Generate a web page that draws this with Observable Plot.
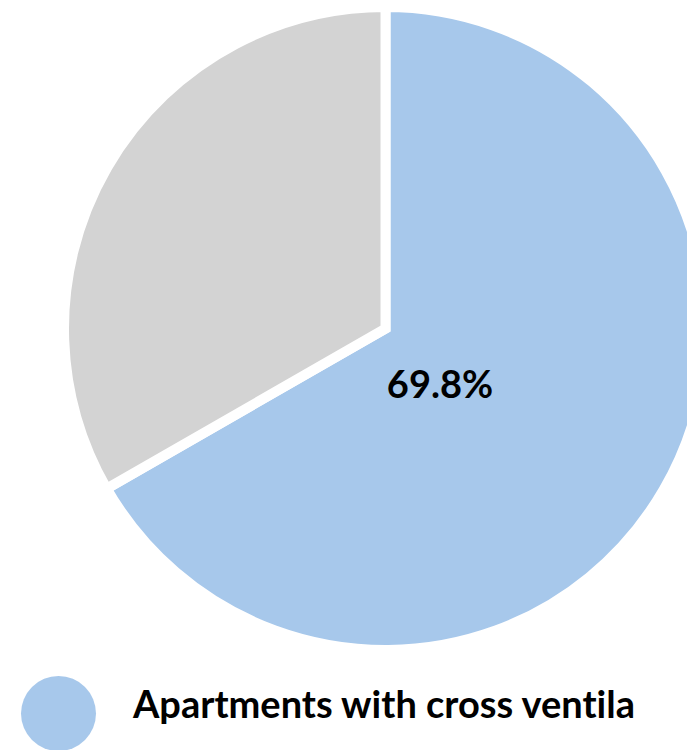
<!DOCTYPE html>
<html><head><meta charset="utf-8">
<script src="https://cdn.jsdelivr.net/npm/d3@7"></script>
<script src="https://cdn.jsdelivr.net/npm/@observablehq/plot@0.6"></script>
<style>
html,body{margin:0;padding:0;background:#fff;}
body{width:687px;height:750px;overflow:hidden;position:relative;}
#chart svg{display:block;}
#legend{position:absolute;left:0;top:660px;width:687px;height:90px;overflow:hidden;}
#legend .sw{position:absolute;left:21px;top:16px;width:75px;height:75px;border-radius:50%;}
#legend .lab{position:absolute;left:133px;top:23px;font-family:Lato,"Open Sans",sans-serif;font-weight:700;font-size:38px;color:#000;white-space:nowrap;line-height:40px;font-variant-ligatures:none;font-feature-settings:"liga" 0;}
</style></head><body>
<div id="chart"></div>
<div id="legend"></div>
<script>
// Data
const categories = ["Apartments with cross ventila", "Other"];
const shares = [66.7, 33.3];            // slice sizes as drawn
const labels = ["69.8%", ""];           // printed data label
const colors = ["#A7C8EB", "#D3D3D3"];
const legendItems = ["Apartments with cross ventila"];

const rows = categories.map((c, i) => ({category: c, share: shares[i], label: labels[i]}));
const arcs = d3.pie().value(d => d.share).sort(null)(rows);
const color = Plot.scale({color: {domain: categories, range: colors}});

function slices(index, scales) {
  const x0 = scales.x(0), y0 = scales.y(0);
  const r = scales.x(1) - x0;
  const arc = d3.arc().innerRadius(0).outerRadius(r + 5);
  const g = d3.create("svg:g").attr("transform", `translate(${x0},${y0})`);
  g.selectAll("path").data(arcs).join("path")
    .attr("d", arc)
    .attr("fill", d => color.apply(d.data.category))
    .attr("stroke", "white")
    .attr("stroke-width", 10)
    .attr("stroke-linejoin", "miter");
  return g.node();
}

const chart = Plot.plot({
  width: 687,
  height: 660,
  margin: 0,
  x: {domain: [-1, 1], range: [69, 702], axis: null},
  y: {domain: [-1, 1], range: [645, 12], axis: null},
  style: {background: "#fff", overflow: "hidden"},
  marks: [
    slices,
    Plot.text(arcs.filter(d => d.data.label), {
      x: () => 0, y: () => 0,
      text: d => d.data.label,
      dx: 54, dy: 57,
      fontSize: 38, fontWeight: 700,
      fontFamily: "Lato, 'Open Sans', sans-serif",
      fill: "#000"
    })
  ]
});
document.getElementById("chart").append(chart);

const leg = document.getElementById("legend");
legendItems.forEach(name => {
  const sw = document.createElement("div");
  sw.className = "sw";
  sw.style.background = color.apply(name);
  const lab = document.createElement("div");
  lab.className = "lab";
  lab.textContent = name;
  leg.append(sw, lab);
});
</script>
</body></html>
